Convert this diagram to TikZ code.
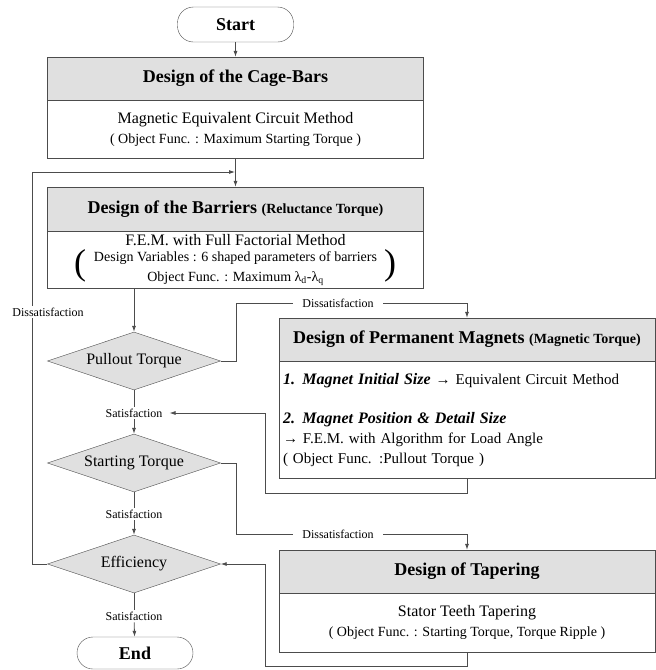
\documentclass[tikz,border=0pt]{standalone}
\usepackage{fontspec}
\setmainfont{Liberation Serif}
\usetikzlibrary{positioning}
\usetikzlibrary{shapes.geometric,arrows.meta}

\begin{document}
\begin{tikzpicture}[x=1pt, y=-1pt,
  head/.style = {draw=black!70, fill=black!12, minimum width=376pt, minimum height=43pt, inner sep=0pt, font=\fontsize{18}{21}\selectfont\bfseries},
  body/.style = {draw=black!70, fill=white, minimum width=376pt, inner sep=0pt, align=center, font=\fontsize{16}{19}\selectfont},
  term/.style = {draw=black!70, rounded corners=16pt, minimum width=116pt, inner sep=0pt, font=\fontsize{18}{21}\selectfont\bfseries},
  decision/.style = {draw=black!70, fill=black!12, diamond, aspect=3, inner sep=0pt, minimum width=173pt, minimum height=58pt, font=\fontsize{16}{19}\selectfont},
  note/.style = {inner xsep=1pt, inner ysep=2pt, font=\fontsize{12}{14}\selectfont},
  gapnote/.style = {note, fill=white, inner xsep=9pt},
  link/.style = {draw=black!70, line width=0.8pt},
  flow/.style = {link, -{Latex[length=6pt,width=4pt]}}]
  \useasboundingbox (0,0) rectangle (656,670);
  % main column
  \node[term, minimum height=35pt] (start) at (235.5,24.5) {Start};
  \node[head] (cagehead) at (235.5,78.5) {Design of the Cage-Bars};
  \node[body, minimum height=58pt, below=0pt of cagehead] (cagebody) {Magnetic Equivalent Circuit Method\\[1pt]{\fontsize{14}{17}\selectfont ( Object Func. : Maximum Starting Torque )}};
  \node[head, minimum height=44pt] (barhead) at (235.5,209) {Design of the Barriers {\fontsize{14}{17}\selectfont (Reluctance Torque)}};
  \node[body, minimum height=57pt, below=0pt of barhead] (barbody) {F.E.M. with Full Factorial Method\\[-3pt]{\fontsize{14}{17}\selectfont Design Variables : 6 shaped parameters of barriers}\\[1pt]{\fontsize{14}{17}\selectfont Object Func. : Maximum λ\textsubscript{d}-λ\textsubscript{q}}};
  \node[inner sep=0pt, font=\fontsize{36}{40}\selectfont] (lpar) at (80,266) {(};
  \node[inner sep=0pt, font=\fontsize{36}{40}\selectfont] (rpar) at (390,266) {)};
  \node[decision] (pullout) at (134,361) {Pullout Torque};
  \node[note] (sat1) at (134,413) {Satisfaction};
  \node[decision] (starting) at (134,463) {Starting Torque};
  \node[note] (sat2) at (134,514) {Satisfaction};
  \node[decision] (eff) at (134,564) {Efficiency};
  \node[note] (sat3) at (134,616) {Satisfaction};
  \node[term, minimum height=32pt] (end) at (135,653) {End};
  % right column
  \node[head] (pmhead) at (467,339.5) {Design of Permanent Magnets {\fontsize{14}{17}\selectfont (Magnetic Torque)}};
  \node[body, minimum height=117pt, below=0pt of pmhead, align=left, text width=368pt, font=\fontsize{15}{20}\selectfont] (pmbody) {{\fontsize{16}{20}\selectfont\bfseries\itshape 1. Magnet Initial Size} → Equivalent Circuit Method\\[19pt]{\fontsize{16}{20}\selectfont\bfseries\itshape 2. Magnet Position \& Detail Size}\\→ F.E.M. with Algorithm for Load Angle\\( Object Func. :Pullout Torque )};
  \node[head] (taphead) at (467,571.5) {Design of Tapering};
  \node[body, minimum height=59pt, below=0pt of taphead] (tapbody) {Stator Teeth Tapering\\[1pt]{\fontsize{14}{17}\selectfont ( Object Func. : Starting Torque, Torque Ripple )}};
  % bends
  \coordinate (bend1) at (236,303);
  \coordinate (bend2) at (236,534);
  \coordinate (ret1) at (265,493);
  \coordinate (ret2) at (265,666);
  \coordinate (loop) at (32,172);
  \coordinate (join) at (235,172);
  % connectors
  \draw[flow] (start) -- (cagehead);
  \draw[flow] (cagebody) -- (barhead);
  \draw[flow] (barbody.south -| pullout.north) -- (pullout.north);
  \draw[link] (pullout) -- (sat1);
  \draw[flow] (sat1) -- (starting);
  \draw[link] (starting) -- (sat2);
  \draw[flow] (sat2) -- (eff);
  \draw[link] (eff) -- (sat3);
  \draw[flow] (sat3) -- (end);
  \draw[flow] (pullout.east) -| (bend1) -| (pmhead.north);
  \draw[flow] (starting.east) -| (bend2) -| (taphead.north);
  \draw[flow, shorten >=6pt] (pmbody.south) |- (ret1) |- (sat1.east);
  \draw[flow] (tapbody.south) |- (ret2) |- (eff.east);
  \draw[flow] (eff.west) -| (loop) -- (join);
  \node[gapnote] (dis1) at (338,303) {Dissatisfaction};
  \node[gapnote] (dis2) at (338,534) {Dissatisfaction};
  \node[note, fill=white] (dis3) at (48,312) {Dissatisfaction};
\end{tikzpicture}
\end{document}
